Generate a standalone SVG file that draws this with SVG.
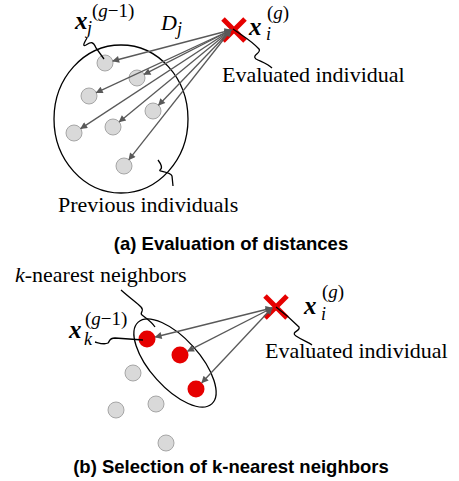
<svg xmlns="http://www.w3.org/2000/svg" width="459" height="481" viewBox="0 0 459 481">
<style>
.serif{font-family:"Liberation Serif","Times New Roman",serif;font-size:22px;fill:#000}
.cap{font-family:"Liberation Sans",Arial,sans-serif;font-size:18.5px;font-weight:bold;fill:#000}
.mx{font-family:"Liberation Serif","Times New Roman",serif;font-style:italic;font-weight:bold;font-size:25px;fill:#000}
.mi{font-family:"Liberation Serif","Times New Roman",serif;font-style:italic;font-size:18px;fill:#000}
.sup{font-family:"Liberation Serif","Times New Roman",serif;font-size:19px;fill:#000}
.gray{fill:#d9d9d9;stroke:#a6a6a6;stroke-width:1}
.red{fill:#e60000}
.arr{stroke:#595959;stroke-width:1.3;fill:none;marker-end:url(#ah);marker-start:url(#ah)}
.sq{stroke:#000;stroke-width:1.3;fill:none}
.xm{stroke:#e60000;stroke-width:5;fill:none}
</style>
<defs>
<marker id="ah" viewBox="0 0 10 10" refX="9" refY="5" markerWidth="9" markerHeight="7" markerUnits="userSpaceOnUse" orient="auto-start-reverse">
<path d="M0,0 L10,5 L0,10 z" fill="#595959"/>
</marker>
</defs>

<!-- Panel (a) -->
<g id="prev-set">
<ellipse cx="121" cy="119" rx="67" ry="74" fill="none" stroke="#000" stroke-width="1.3"/>
</g>
<g id="prev-individuals">
<circle class="gray" cx="105" cy="63" r="8"/>
<circle class="gray" cx="137" cy="78" r="8"/>
<circle class="gray" cx="89" cy="96" r="8"/>
<circle class="gray" cx="153" cy="111" r="8"/>
<circle class="gray" cx="74" cy="133" r="8"/>
<circle class="gray" cx="113" cy="127" r="8"/>
<circle class="gray" cx="124" cy="166" r="8"/>
</g>
<g id="eval-a">
<path class="xm" d="M223,19 L245,41 M245,19 L223,41"/>
</g>
<g id="connectors-a">
<line class="arr" x1="231" y1="30" x2="112.8" y2="61"/>
<line class="arr" x1="231" y1="30" x2="144.1" y2="74.4"/>
<line class="arr" x1="231" y1="30" x2="96.3" y2="92.6"/>
<line class="arr" x1="231" y1="30" x2="158.5" y2="105.2"/>
<line class="arr" x1="231" y1="30" x2="80.7" y2="128.6"/>
<line class="arr" x1="231" y1="30" x2="119.2" y2="121.9"/>
<line class="arr" x1="231" y1="30" x2="128.9" y2="159.7"/>
<path class="sq" d="M87,38 C84,43 82,47 86,45 C91,42 93,41 96,48 L104,59"/>
<path class="sq" d="M158,160 C161,164 163,168 160,170 C158,172 170,171 172,176 L173,186"/>
<path class="sq" d="M233,29 C243,36 252,41 259,49 C262,53 251,55 256,59 C262,62 268,64 272,68"/>
</g>
<g id="labels-a">
<text class="mx" x="75" y="29">x</text>
<text class="mi" x="87" y="34">j</text>
<text class="sup" x="92" y="17">(<tspan font-style="italic">g</tspan>−1)</text>
<text class="serif" x="161" y="30" font-style="italic">D</text>
<text class="mi" x="177" y="35">j</text>
<text class="mx" x="249" y="35">x</text>
<text class="mi" x="266" y="40">i</text>
<text class="sup" x="267" y="19">(<tspan font-style="italic">g</tspan>)</text>
<text class="serif" x="222" y="82">Evaluated individual</text>
<text class="serif" x="58" y="212">Previous individuals</text>
<text class="cap" x="231" y="250" text-anchor="middle">(a) Evaluation of distances</text>
</g>

<!-- Panel (b) -->
<g id="others-b">
<circle class="gray" cx="133" cy="373" r="8"/>
<circle class="gray" cx="116" cy="410" r="8"/>
<circle class="gray" cx="156" cy="404" r="8"/>
<circle class="gray" cx="166" cy="443" r="8"/>
</g>
<g id="knn">
<ellipse cx="175" cy="363" rx="55" ry="24.5" transform="rotate(48 175 363)" fill="none" stroke="#000" stroke-width="1.3"/>
<circle class="red" cx="147" cy="339" r="8.5"/>
<circle class="red" cx="180" cy="355" r="8.5"/>
<circle class="red" cx="196" cy="389" r="8.5"/>
</g>
<g id="eval-b">
<path class="xm" d="M265,296 L287,318 M287,296 L265,318"/>
</g>
<g id="connectors-b">
<line class="arr" x1="272" y1="308" x2="155.3" y2="337"/>
<line class="arr" x1="272" y1="308" x2="187.6" y2="351.2"/>
<line class="arr" x1="272" y1="308" x2="201.8" y2="382.8"/>
<path class="sq" d="M121,290 C130,298 137,303 141,307 C145,311 139,313 142,315 C146,318 152,322 155,327"/>
<path class="sq" d="M95,342 C99,343 104,345 108,343 C110,341 109,338 115,338 L143,340"/>
<path class="sq" d="M276,307 C284,313 292,320 299,327 C301,331 290,332 296,336 C302,340 308,342 312,345"/>
</g>
<g id="labels-b">
<text class="serif" x="15" y="282"><tspan font-style="italic">k</tspan>-nearest neighbors</text>
<text class="mx" x="69" y="338">x</text>
<text class="mi" x="84" y="345">k</text>
<text class="sup" x="85" y="325">(<tspan font-style="italic">g</tspan>−1)</text>
<text class="mx" x="304" y="314">x</text>
<text class="mi" x="321" y="320">i</text>
<text class="sup" x="322" y="298">(<tspan font-style="italic">g</tspan>)</text>
<text class="serif" x="265" y="358">Evaluated individual</text>
<text class="cap" x="231" y="473" text-anchor="middle">(b) Selection of k-nearest neighbors</text>
</g>
</svg>
